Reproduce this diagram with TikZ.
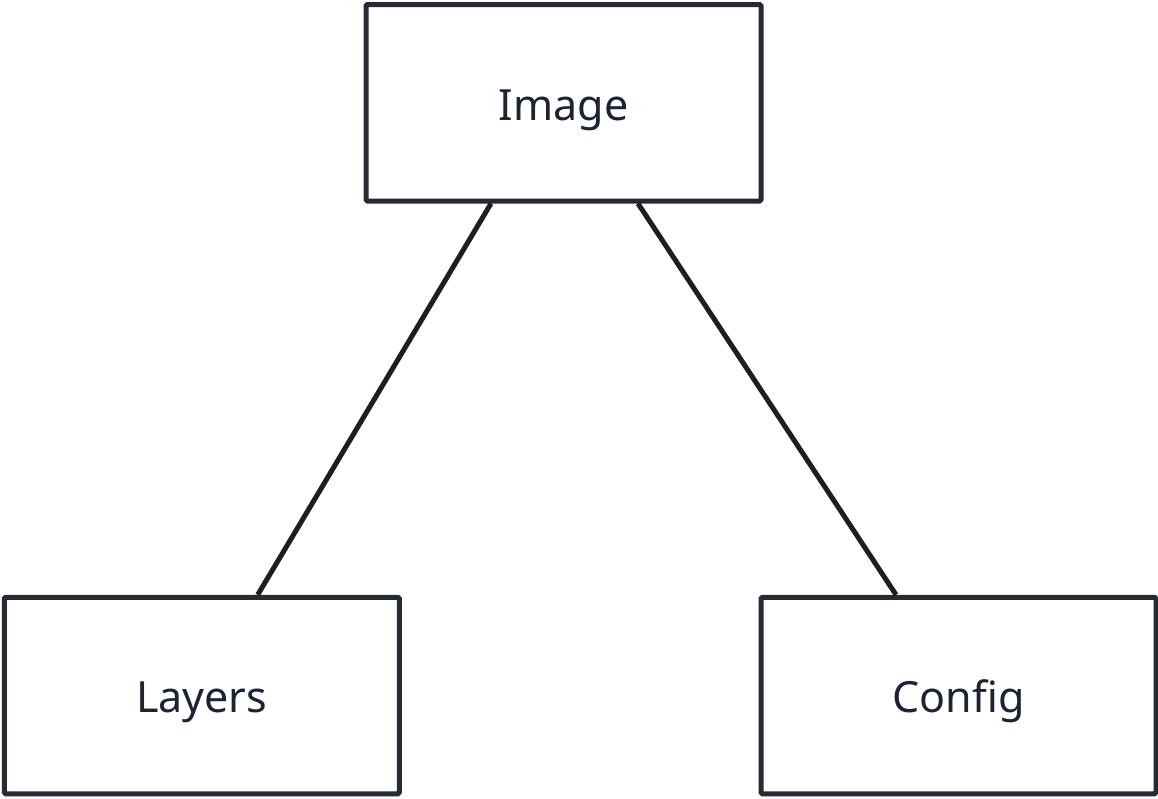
\documentclass[tikz,border=0pt]{standalone}
\usepackage{fontspec}
\setmainfont{Noto Sans}
\usetikzlibrary{calc}
\definecolor{boxline}{HTML}{252A33}
\definecolor{labeltext}{HTML}{1C2333}
\definecolor{linkline}{HTML}{1E1E1E}
\begin{document}
\begin{tikzpicture}[x=1pt,y=-1pt,
  box/.style={draw=boxline, line width=5pt, rounded corners=1.5pt, fill=white,
    minimum width=395pt, minimum height=196.5pt, inner sep=0pt, outer sep=0pt,
    text height=40pt, text depth=5.5pt,
    text=labeltext, font=\fontsize{43}{50}\selectfont},
  link/.style={draw=linkline, line width=5pt}]
  \useasboundingbox (0,0) rectangle (1158,798);
  \node[box] (img) at (563.5,102.75) {Image};
  \node[box] (lay) at (201.75,695.5) {Layers};
  \node[box] (cfg) at (958.5,695.5) {Config};
  \coordinate (a1) at ([xshift=-72.5pt,yshift=-2.5pt]img.south);
  \coordinate (a2) at ([xshift=56pt,yshift=2.5pt]lay.north);
  \coordinate (b1) at ([xshift=74.5pt,yshift=-2.5pt]img.south);
  \coordinate (b2) at ([xshift=-62.5pt,yshift=2.5pt]cfg.north);
  \draw[link] (a1) -- (a2);
  \draw[link] (b1) -- (b2);
\end{tikzpicture}
\end{document}
